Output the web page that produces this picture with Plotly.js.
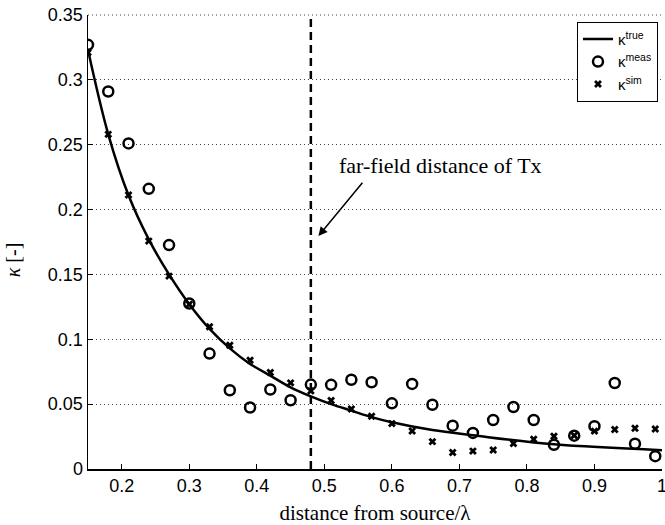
<!DOCTYPE html>
<html>
<head>
<meta charset="utf-8">
<script src="https://cdn.plot.ly/plotly-3.0.1.min.js"></script>
<style>html,body{margin:0;padding:0;background:#fff;}#chart{width:665px;height:525px;}</style>
</head>
<body>
<div id="chart"></div>
<script>
// distance from source / lambda for measured & simulated points
const distX = [0.15,0.18,0.21,0.24,0.27,0.30,0.33,0.36,0.39,0.42,0.45,0.48,0.51,0.54,0.57,0.60,0.63,0.66,0.69,0.72,0.75,0.78,0.81,0.84,0.87,0.90,0.93,0.96,0.99];
const kappaMeas = [0.327,0.291,0.251,0.216,0.1726,0.1276,0.089,0.0607,0.0474,0.0613,0.053,0.0651,0.0649,0.0688,0.0669,0.0506,0.0656,0.0495,0.0334,0.0278,0.0378,0.0478,0.0378,0.0187,0.0257,0.033,0.0663,0.0195,0.0099];
const kappaSim = [0.321,0.258,0.2112,0.1757,0.1487,0.127,0.1096,0.0954,0.0839,0.0744,0.0664,0.0602,0.0528,0.0463,0.0407,0.035,0.0293,0.0211,0.0127,0.0138,0.0146,0.0196,0.0229,0.0253,0.0258,0.0292,0.0304,0.0314,0.0308];
// true curve
const trueX = [0.15,0.18,0.21,0.24,0.27,0.30,0.33,0.36,0.39,0.42,0.45,0.48,0.51,0.54,0.57,0.60,0.66,0.72,0.84,1.00];
const trueY = [0.323,0.258,0.211,0.177,0.150,0.127,0.108,0.093,0.081,0.072,0.063,0.056,0.050,0.045,0.040,0.036,0.030,0.026,0.019,0.0145];
const farFieldX = 0.48;
const seriesNames = ['κ<sup>true</sup>','κ<sup>meas</sup>','κ<sup>sim</sup>'];
const xTicks = [0.2,0.3,0.4,0.5,0.6,0.7,0.8,0.9,1];
const yTicks = [0,0.05,0.1,0.15,0.2,0.25,0.3,0.35];
const annText = 'far-field distance of Tx';
const xTitle = 'distance from source/λ';
const yTitle = '<i>κ</i> [-]';

const sans = 'Liberation Sans, Arial, sans-serif';
const serif = 'Liberation Serif, Times New Roman, serif';

const traces = [
  {x: trueX, y: trueY, mode: 'lines', name: seriesNames[0],
   line: {color: '#000', width: 2.5, shape: 'spline', smoothing: 1}},
  {x: distX, y: kappaMeas, mode: 'markers', name: seriesNames[1],
   marker: {symbol: 'circle-open', size: 10, color: '#000', line: {width: 2.5, color: '#000'}}},
  {x: distX, y: kappaSim, mode: 'markers', name: seriesNames[2],
   marker: {symbol: 'x', size: 7, color: '#000'}}
];

const layout = {
  width: 665, height: 525,
  margin: {l: 88, r: 3, t: 15, b: 56},
  paper_bgcolor: '#fff', plot_bgcolor: '#fff',
  showlegend: true,
  legend: {x: 0.993, y: 0.985, xanchor: 'right', yanchor: 'top',
    bordercolor: '#000', borderwidth: 1, bgcolor: '#fff',
    font: {family: sans, size: 15, color: '#000'}, tracegroupgap: 0, itemwidth: 30},
  xaxis: {range: [0.15, 1], tickvals: xTicks, ticktext: xTicks.map(String),
    showline: true, linecolor: '#000', linewidth: 1.5, ticks: 'inside', ticklen: 5,
    tickcolor: '#000', showgrid: false, zeroline: false, ticklabeloverflow: 'allow',
    tickfont: {family: sans, size: 18, color: '#000'},
    title: {text: xTitle, font: {family: serif, size: 21, color: '#000'}, standoff: 10}},
  yaxis: {range: [0, 0.35], tickvals: yTicks, ticktext: yTicks.map(String),
    showline: true, linecolor: '#000', linewidth: 1.5, ticks: 'inside', ticklen: 5,
    tickcolor: '#000', showgrid: true, gridcolor: '#444', gridwidth: 1, griddash: '1px,3px',
    zeroline: false,
    tickfont: {family: sans, size: 18, color: '#000'}},
  shapes: [
    {type: 'line', xref: 'paper', yref: 'paper', x0: 0, x1: 1, y0: 1, y1: 1, layer: 'below',
     line: {color: '#444', width: 1, dash: '1px,3px'}},
    {type: 'line', xref: 'x', yref: 'paper', x0: farFieldX, x1: farFieldX, y0: 0, y1: 1,
     line: {color: '#000', width: 2.5, dash: '8px,5px'}}
  ],
  annotations: [
    {xref: 'x', yref: 'y', x: 0.4912, y: 0.1796, ax: 47, ay: -57, text: ' ',
     showarrow: true, arrowhead: 2, arrowsize: 1.2, arrowwidth: 1.5, arrowcolor: '#000'},
    {xref: 'x', yref: 'y', x: 0.519, y: 0.2343, xanchor: 'left', yanchor: 'middle',
     text: annText, showarrow: false, font: {family: serif, size: 22, color: '#000'}},
    {xref: 'paper', yref: 'paper', x: -0.1305, y: 0.46, xanchor: 'center', yanchor: 'middle',
     text: yTitle, textangle: -90, showarrow: false, font: {family: serif, size: 20, color: '#000'}}
  ]
};

Plotly.newPlot('chart', traces, layout, {displayModeBar: false, staticPlot: true});
</script>
</body>
</html>
